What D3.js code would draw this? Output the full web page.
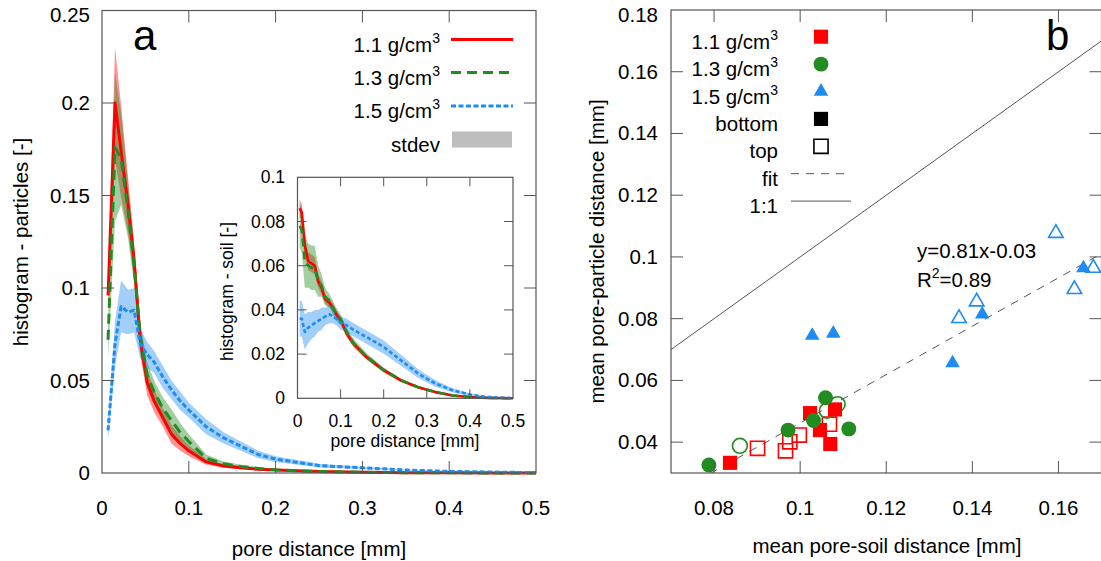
<!DOCTYPE html>
<html><head><meta charset="utf-8">
<script src="https://cdn.jsdelivr.net/npm/d3@7"></script>
<style>
body{margin:0;background:#fff;}
svg{display:block;font-family:"Liberation Sans",Arial,sans-serif;}
</style></head>
<body>
<svg id="c" width="1101" height="561"></svg>
<script>
// ---------- DATA: panel a (main) ----------
const mainX   = [0.007,0.015,0.022,0.03,0.037,0.044,0.052,0.06,0.07,0.08,0.09,0.1,0.12,0.14,0.16,0.18,0.2,0.25,0.3,0.35,0.4,0.45,0.5];
const red     = [0.096,0.200,0.174,0.145,0.115,0.072,0.049,0.039,0.030,0.021,0.016,0.012,0.006,0.0038,0.0028,0.002,0.0016,0.0008,0.0004,0.0002,0.0001,0,0];
const redSd   = [0.010,0.030,0.025,0.015,0.010,0.008,0.007,0.006,0.005,0.005,0.004,0.003,0.0015,0.001,0.0008,0.0006,0.0005,0.0003,0.0002,0.0001,0,0,0];
const green   = [0.072,0.176,0.170,0.142,0.112,0.074,0.053,0.044,0.035,0.0285,0.022,0.017,0.008,0.005,0.0035,0.0025,0.0017,0.0008,0.0004,0.0002,0.0001,0,0];
const greenSd = [0.010,0.040,0.025,0.015,0.010,0.008,0.007,0.006,0.006,0.006,0.005,0.004,0.002,0.0012,0.0009,0.0007,0.0005,0.0003,0.0002,0.0001,0,0,0];
const blue    = [0.023,0.070,0.090,0.087,0.088,0.070,0.064,0.060,0.052,0.045,0.039,0.034,0.025,0.019,0.0145,0.010,0.0075,0.004,0.0028,0.0016,0.0009,0.0005,0.0002];
const blueSd  = [0.005,0.012,0.014,0.012,0.012,0.008,0.007,0.006,0.006,0.005,0.005,0.004,0.004,0.003,0.0025,0.002,0.0015,0.001,0.0006,0.0003,0.0002,0.0001,0];
// ---------- DATA: panel a (inset) ----------
const insetX   = [0.005,0.01,0.017,0.025,0.033,0.04,0.048,0.056,0.064,0.075,0.082,0.09,0.1,0.114,0.13,0.16,0.2,0.24,0.28,0.32,0.36,0.4,0.44,0.5];
const iRed     = [0.086,0.084,0.069,0.062,0.061,0.060,0.053,0.050,0.045,0.043,0.041,0.038,0.0353,0.0293,0.0247,0.0187,0.0127,0.0081,0.005,0.0028,0.0013,0.0006,0.0002,0];
const iRedSd   = [0.004,0.004,0.004,0.004,0.004,0.004,0.003,0.003,0.002,0.002,0.002,0.002,0.0015,0.0015,0.0012,0.001,0.001,0.0008,0.0006,0.0004,0.0002,0.0001,0,0];
const iGreen   = [0.078,0.076,0.062,0.060,0.059,0.059,0.053,0.051,0.046,0.044,0.041,0.038,0.036,0.030,0.025,0.019,0.0128,0.0082,0.005,0.0028,0.0013,0.0006,0.0002,0];
const iGreenSd = [0.010,0.010,0.012,0.010,0.010,0.010,0.007,0.005,0.004,0.003,0.003,0.003,0.002,0.002,0.002,0.0015,0.001,0.0008,0.0006,0.0004,0.0002,0.0001,0,0];
const iBlue    = [0.036,0.036,0.030,0.032,0.033,0.034,0.035,0.036,0.037,0.038,0.037,0.036,0.034,0.033,0.031,0.0277,0.0232,0.0172,0.0112,0.0067,0.0036,0.0017,0.0006,0.0001];
const iBlueSd  = [0.008,0.008,0.008,0.007,0.006,0.006,0.005,0.005,0.004,0.004,0.003,0.003,0.003,0.003,0.003,0.003,0.003,0.0025,0.002,0.0015,0.001,0.0005,0.0002,0];
// ---------- tick labels ----------
const aXTicks = [0,0.1,0.2,0.3,0.4,0.5];
const aXLabels = ["0","0.1","0.2","0.3","0.4","0.5"];
const aYTicks = [0,0.05,0.1,0.15,0.2,0.25];
const aYLabels = ["0","0.05","0.1","0.15","0.2","0.25"];
const inXTicks = [0,0.1,0.2,0.3,0.4,0.5];
const inXLabels = ["0","0.1","0.2","0.3","0.4","0.5"];
const inYTicks = [0,0.02,0.04,0.06,0.08,0.1];
const inYLabels = ["0","0.02","0.04","0.06","0.08","0.1"];
const bXTicks = [0.08,0.1,0.12,0.14,0.16];
const bXLabels = ["0.08","0.1","0.12","0.14","0.16"];
const bYTicks = [0.04,0.06,0.08,0.1,0.12,0.14,0.16,0.18];
const bYLabels = ["0.04","0.06","0.08","0.1","0.12","0.14","0.16","0.18"];
const seriesNames = ["1.1 g/cm","1.3 g/cm","1.5 g/cm"];
// ---------- DATA: panel b ----------
const redBottomX = [0.0837,0.1023,0.1046,0.1070,0.1081];
const redBottomY = [0.0333,0.0494,0.0439,0.0394,0.0506];
const redTopX = [0.0901,0.0966,0.0976,0.0998,0.1068];
const redTopY = [0.0380,0.0372,0.0401,0.0423,0.0458];
const greenBottomX = [0.0788,0.0972,0.1031,0.1059,0.1113];
const greenBottomY = [0.0326,0.0439,0.0470,0.0544,0.0443];
const greenTopX = [0.0860,0.1062,0.1087];
const greenTopY = [0.0388,0.0502,0.0523];
const blueBottomX = [0.1028,0.1077,0.1354,0.1423,0.1658];
const blueBottomY = [0.0745,0.0752,0.0656,0.0814,0.0964];
const blueTopX = [0.1369,0.1410,0.1594,0.1637,0.1681];
const blueTopY = [0.0801,0.0855,0.1077,0.0895,0.0964];
const fitSlope = 0.784, fitIntercept = -0.0322;

const C = {red:"#ff0000", green:"#228b22", blue:"#1e8cf0"};
const FONT = 20.5;
const svg = d3.select("#c");

function frameTicks(g, x, y, xt, yt, len, col){
  const [x0,x1]=x.range(), [y0,y1]=y.range();
  g.append("rect").attr("x",x0).attr("y",y1).attr("width",x1-x0).attr("height",y0-y1)
   .attr("fill","none").attr("stroke",col).attr("stroke-width",1.2);
  xt.forEach(v=>{
    g.append("line").attr("x1",x(v)).attr("x2",x(v)).attr("y1",y0).attr("y2",y0-len).attr("stroke",col).attr("stroke-width",1);
    g.append("line").attr("x1",x(v)).attr("x2",x(v)).attr("y1",y1).attr("y2",y1+len).attr("stroke",col).attr("stroke-width",1);
  });
  yt.forEach(v=>{
    g.append("line").attr("x1",x0).attr("x2",x0+len).attr("y1",y(v)).attr("y2",y(v)).attr("stroke",col).attr("stroke-width",1);
    g.append("line").attr("x1",x1).attr("x2",x1-len).attr("y1",y(v)).attr("y2",y(v)).attr("stroke",col).attr("stroke-width",1);
  });
}

// ================= PANEL A =================
const ax = d3.scaleLinear().domain([0,0.5]).range([102,536]);
const ay = d3.scaleLinear().domain([0,0.25]).range([473,10.5]);
const ga = svg.append("g");

function drawSet(g, xs, sets, x, y, lw){
  sets.forEach(s=>{
    const area = d3.area().x((d,i)=>x(xs[i])).y0((d,i)=>y(Math.max(0,d-s.sd[i]))).y1((d,i)=>y(d+s.sd[i]));
    g.append("path").attr("d",area(s.v)).attr("fill",s.c).attr("fill-opacity",0.42).attr("stroke","none");
  });
  sets.forEach(s=>{
    const line = d3.line().x((d,i)=>x(xs[i])).y(d=>y(d));
    g.append("path").attr("d",line(s.v)).attr("fill","none").attr("stroke",s.c).attr("stroke-width",lw)
     .attr("stroke-dasharray",s.dash).attr("stroke-linejoin","round");
  });
}
drawSet(ga, mainX, [
  {v:red,sd:redSd,c:C.red,dash:null},
  {v:green,sd:greenSd,c:C.green,dash:"10,6"},
  {v:blue,sd:blueSd,c:C.blue,dash:"5,2.5"}], ax, ay, 3);

frameTicks(ga, ax, ay, aXTicks.slice(1,-1), aYTicks.slice(1,-1), 12, "#555");
aXTicks.forEach((v,i)=>ga.append("text").attr("x",ax(v)).attr("y",515).attr("text-anchor","middle").attr("font-size",FONT).text(aXLabels[i]));
aYTicks.forEach((v,i)=>ga.append("text").attr("x",90).attr("y",Math.max(ay(v)+7,22)).attr("text-anchor","end").attr("font-size",FONT).text(aYLabels[i]));
ga.append("text").attr("x",319).attr("y",556).attr("text-anchor","middle").attr("font-size",FONT).text("pore distance [mm]");
ga.append("text").attr("transform","translate(28,242) rotate(-90)").attr("text-anchor","middle").attr("font-size",FONT).text("histogram - particles [-]");
ga.append("text").attr("x",133).attr("y",50).attr("font-size",42).text("a");

// legend a
const legA = [{c:C.red,dash:null},{c:C.green,dash:"10,6"},{c:C.blue,dash:"5,2.5"}];
const legARows = [39.5,72.5,106,139.5];
legA.forEach((s,i)=>{
  const t = ga.append("text").attr("x",440).attr("y",legARows[i]+12).attr("text-anchor","end").attr("font-size",FONT);
  t.append("tspan").text(seriesNames[i]);
  t.append("tspan").attr("font-size",14).attr("dy",-9).text("3");
  ga.append("line").attr("x1",451).attr("x2",513).attr("y1",legARows[i]).attr("y2",legARows[i])
    .attr("stroke",s.c).attr("stroke-width",3).attr("stroke-dasharray",s.dash);
});
ga.append("text").attr("x",440).attr("y",legARows[3]+12).attr("text-anchor","end").attr("font-size",FONT).text("stdev");
ga.append("rect").attr("x",452).attr("y",legARows[3]-8).attr("width",60).attr("height",16).attr("fill","#bebebe");

// inset
const ix = d3.scaleLinear().domain([0,0.5]).range([297.5,513]);
const iy = d3.scaleLinear().domain([0,0.1]).range([398.3,177.3]);
const gi = svg.append("g");
gi.append("rect").attr("x",297.5).attr("y",177.3).attr("width",215.5).attr("height",221).attr("fill","#fff");
drawSet(gi, insetX, [
  {v:iRed,sd:iRedSd,c:C.red,dash:null},
  {v:iGreen,sd:iGreenSd,c:C.green,dash:"8,5"},
  {v:iBlue,sd:iBlueSd,c:C.blue,dash:"4,2.5"}], ix, iy, 2.6);
frameTicks(gi, ix, iy, inXTicks.slice(1,-1), inYTicks.slice(1,-1), 9, "#555");
const IF = 17.5;
inXTicks.forEach((v,i)=>gi.append("text").attr("x",ix(v)).attr("y",427).attr("text-anchor","middle").attr("font-size",IF).text(inXLabels[i]));
inYTicks.forEach((v,i)=>gi.append("text").attr("x",285).attr("y",iy(v)+6).attr("text-anchor","end").attr("font-size",IF).text(inYLabels[i]));
gi.append("text").attr("x",405).attr("y",447).attr("text-anchor","middle").attr("font-size",IF).text("pore distance [mm]");
gi.append("text").attr("transform","translate(233,291.5) rotate(-90)").attr("text-anchor","middle").attr("font-size",IF).text("histogram - soil [-]");

// ================= PANEL B =================
const bx = d3.scaleLinear().domain([0.07,0.17]).range([671,1101.5]);
const by = d3.scaleLinear().domain([0.03,0.18]).range([473,10]);
const gb = svg.append("g");
gb.append("clipPath").attr("id","clipb").append("rect").attr("x",671).attr("y",10).attr("width",431).attr("height",463);
const gp = gb.append("g").attr("clip-path","url(#clipb)");
// 1:1 and fit lines
const lineGen = d3.line().x(d=>bx(d[0])).y(d=>by(d[1]));
const xd = bx.domain();
gp.append("path").attr("d",lineGen(xd.map(v=>[v,v]))).attr("stroke","#555").attr("stroke-width",1).attr("fill","none");
gp.append("path").attr("d",lineGen(xd.map(v=>[v,fitSlope*v+fitIntercept]))).attr("stroke","#555").attr("stroke-width",1).attr("stroke-dasharray","8,7").attr("fill","none");

const sym = {square:d3.symbolSquare, circle:d3.symbolCircle, triangle:d3.symbolTriangle};
const symSize = {square:200, circle:175, triangle:92};
function pts(xs, ys, shape, col, filled){
  xs.forEach((v,i)=>{
    const p = gp.append("path").attr("d",d3.symbol(sym[shape], symSize[shape])())
      .attr("transform",`translate(${bx(v)},${by(ys[i])})`);
    if(filled) p.attr("fill",col).attr("stroke","none");
    else p.attr("fill","none").attr("stroke",col).attr("stroke-width",1.6);
  });
}
pts(redTopX, redTopY, "square", C.red, false);
pts(greenTopX, greenTopY, "circle", C.green, false);
pts(blueTopX, blueTopY, "triangle", C.blue, false);
pts(redBottomX, redBottomY, "square", C.red, true);
pts(greenBottomX, greenBottomY, "circle", C.green, true);
pts(blueBottomX, blueBottomY, "triangle", C.blue, true);

frameTicks(gb, bx, by, bXTicks, bYTicks.slice(0,-1), 12, "#555");
bXTicks.forEach((v,i)=>gb.append("text").attr("x",bx(v)).attr("y",515).attr("text-anchor","middle").attr("font-size",FONT).text(bXLabels[i]));
bYTicks.forEach((v,i)=>gb.append("text").attr("x",658).attr("y",Math.max(by(v)+7,22)).attr("text-anchor","end").attr("font-size",FONT).text(bYLabels[i]));
gb.append("text").attr("x",887).attr("y",553).attr("text-anchor","middle").attr("font-size",FONT).text("mean pore-soil distance [mm]");
gb.append("text").attr("transform","translate(604,251.5) rotate(-90)").attr("text-anchor","middle").attr("font-size",FONT).text("mean pore-particle distance [mm]");
gb.append("text").attr("x",1046).attr("y",50).attr("font-size",42).text("b");
gb.append("text").attr("x",917).attr("y",258).attr("font-size",FONT).text("y=0.81x-0.03");
const r2 = gb.append("text").attr("x",917).attr("y",287).attr("font-size",FONT);
r2.append("tspan").text("R");
r2.append("tspan").attr("font-size",14).attr("dy",-9).text("2");
r2.append("tspan").attr("dy",9).text("=0.89");

// legend b
const legBRows = [36.7,64.1,91.5,118.9,146.3,173.7,201.1];
const legBLabels = [null,null,null,"bottom","top","fit","1:1"];
legBRows.forEach((r,i)=>{
  const t = gb.append("text").attr("x",778).attr("y",r+12).attr("text-anchor","end").attr("font-size",FONT);
  if(i<3){ t.append("tspan").text(seriesNames[i]); t.append("tspan").attr("font-size",14).attr("dy",-9).text("3"); }
  else t.text(legBLabels[i]);
});
const lsym = [["square",C.red,true],["circle",C.green,true],["triangle",C.blue,true],["square","#000",true],["square","#000",false]];
lsym.forEach((s,i)=>{
  const p = gb.append("path").attr("d",d3.symbol(sym[s[0]], symSize[s[0]])()).attr("transform",`translate(821,${legBRows[i]})`);
  if(s[2]) p.attr("fill",s[1]); else p.attr("fill","none").attr("stroke",s[1]).attr("stroke-width",1.6);
});
gb.append("line").attr("x1",791).attr("x2",851).attr("y1",legBRows[5]).attr("y2",legBRows[5]).attr("stroke","#555").attr("stroke-dasharray","8,7");
gb.append("line").attr("x1",791).attr("x2",851).attr("y1",legBRows[6]).attr("y2",legBRows[6]).attr("stroke","#555");
</script>
</body></html>
